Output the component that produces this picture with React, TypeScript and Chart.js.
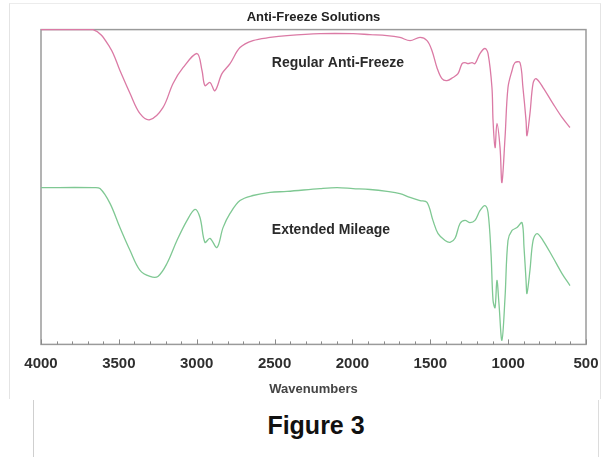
import React, { useEffect, useRef } from "react";
import { Chart, registerables } from "chart.js";

Chart.register(...registerables);

const chartTitle = "Anti-Freeze Solutions";
const xAxisTitle = "Wavenumbers";
const figureCaption = "Figure 3";
const xTickMin = 500;
const xTickMax = 4000;

// Regular Anti-Freeze (wavenumber, transmittance %)
const wnRegular = [4000, 3666, 3557, 3493, 3428, 3364, 3300, 3217, 3152, 3088, 2998, 2966, 2947, 2915, 2883, 2838, 2786, 2722, 2639, 2529, 2420, 2208, 1996, 1887, 1778, 1695, 1630, 1566, 1521, 1489, 1457, 1425, 1393, 1354, 1322, 1296, 1277, 1258, 1232, 1213, 1181, 1149, 1129, 1104, 1097, 1084, 1072, 1052, 1040, 1020, 1001, 975, 956, 924, 905, 885, 879, 860, 840, 821, 776, 712, 654, 603];
const tRegular = [100, 100, 94.3, 87.0, 79.7, 73.3, 71.4, 75.2, 82.9, 87.9, 92.4, 87.0, 82.2, 83.2, 80.6, 86.0, 89.2, 94.3, 96.5, 97.5, 98.1, 98.7, 98.7, 98.4, 98.1, 97.5, 96.5, 97.5, 96.5, 93.3, 87.9, 84.4, 83.8, 84.8, 86.0, 89.2, 89.5, 89.2, 89.5, 89.2, 92.4, 94.0, 92.4, 81.6, 71.1, 62.5, 70.2, 62.5, 51.4, 65.7, 81.6, 87.0, 89.5, 89.5, 81.6, 71.1, 66.3, 73.3, 82.9, 84.4, 81.6, 76.5, 72.1, 68.9];

// Extended Mileage (wavenumber, transmittance %)
const wnExtended = [4000, 3666, 3621, 3557, 3493, 3428, 3364, 3300, 3249, 3191, 3127, 3062, 3011, 2979, 2947, 2915, 2870, 2831, 2786, 2722, 2639, 2529, 2420, 2208, 2099, 1996, 1887, 1778, 1695, 1630, 1566, 1521, 1483, 1450, 1405, 1373, 1341, 1309, 1277, 1245, 1213, 1181, 1149, 1129, 1110, 1097, 1084, 1072, 1059, 1040, 1020, 1001, 975, 943, 911, 898, 885, 879, 860, 840, 815, 776, 712, 654, 603];
const tExtended = [49.8, 49.8, 49.5, 44.8, 37.1, 29.8, 23.5, 21.6, 21.6, 25.7, 33.0, 39.4, 42.9, 40.3, 32.4, 33.7, 30.8, 37.1, 41.6, 45.7, 47.3, 48.3, 48.6, 49.5, 49.8, 49.5, 49.2, 48.6, 47.9, 46.7, 45.7, 45.1, 39.4, 35.2, 33.0, 32.4, 33.7, 38.4, 39.4, 38.7, 39.4, 42.5, 44.1, 41.9, 28.9, 14.0, 11.7, 20.3, 13.0, 1.3, 14.9, 33.0, 36.2, 37.1, 38.7, 30.8, 20.3, 16.2, 23.5, 33.0, 35.2, 33.0, 27.6, 22.5, 18.7];

// In-plot labels
const seriesLabels = ["Regular Anti-Freeze", "Extended Mileage"];
const labelWn = [2093, 2138];
const labelT = [89.5, 36.2];

const FONT = "'Liberation Sans', Arial, Helvetica, sans-serif";

const framePlugin = {
  id: "frameTicks",
  beforeDatasetsDraw(chart: any) {
    const { ctx, chartArea, scales } = chart;
    const xs = scales.x;
    ctx.save();
    ctx.strokeStyle = "#9a9a9a";
    ctx.lineWidth = 1.5;
    ctx.strokeRect(chartArea.left, chartArea.top, chartArea.right - chartArea.left, chartArea.bottom - chartArea.top);
    ctx.strokeStyle = "#8a8a8a";
    ctx.lineWidth = 1;
    for (let v = xTickMin; v <= xTickMax; v += 100) {
      const px = Math.round(xs.getPixelForValue(v)) + 0.5;
      const len = v % 500 === 0 ? 5 : 3;
      ctx.beginPath();
      ctx.moveTo(px, chartArea.bottom);
      ctx.lineTo(px, chartArea.bottom - len);
      ctx.stroke();
    }
    ctx.restore();
  },
  afterDatasetsDraw(chart: any) {
    const { ctx, scales } = chart;
    ctx.save();
    ctx.fillStyle = "#2a2a2a";
    ctx.font = `bold 14px ${FONT}`;
    ctx.textAlign = "center";
    ctx.textBaseline = "middle";
    for (let i = 0; i < seriesLabels.length; i++) {
      ctx.fillText(seriesLabels[i], scales.x.getPixelForValue(labelWn[i]), scales.y.getPixelForValue(labelT[i]));
    }
    ctx.restore();
  },
};

function IRChart() {
  const ref = useRef<HTMLCanvasElement | null>(null);
  useEffect(() => {
    if (!ref.current) return;
    const chart = new Chart(ref.current, {
      type: "line",
      data: {
        datasets: [
          {
            label: seriesLabels[0],
            data: wnRegular.map((w, i) => ({ x: w, y: tRegular[i] })),
            borderColor: "#db7aa5",
            borderWidth: 1.3,
            pointRadius: 0,
            tension: 0.35,
            fill: false,
            clip: false,
          },
          {
            label: seriesLabels[1],
            data: wnExtended.map((w, i) => ({ x: w, y: tExtended[i] })),
            borderColor: "#7fc893",
            borderWidth: 1.3,
            pointRadius: 0,
            tension: 0.35,
            fill: false,
            clip: false,
          },
        ],
      },
      options: {
        animation: false,
        responsive: false,
        maintainAspectRatio: false,
        layout: { padding: { left: 41, right: 22, top: 0, bottom: 0 } },
        plugins: {
          legend: { display: false },
          tooltip: { enabled: false },
          title: {
            display: true,
            text: chartTitle,
            color: "#222",
            font: { family: FONT, size: 13, weight: "bold" },
            padding: { top: 10, bottom: 4 },
          },
        },
        scales: {
          x: {
            type: "linear",
            reverse: true,
            min: xTickMin,
            max: xTickMax,
            grid: { display: false },
            border: { display: false },
            ticks: {
              stepSize: 500,
              autoSkip: false,
              maxRotation: 0,
              padding: 2,
              color: "#2e2e2e",
              font: { family: FONT, size: 15, weight: "bold" },
              callback: (v: any) => String(v),
            },
            title: {
              display: true,
              text: xAxisTitle,
              color: "#444",
              font: { family: FONT, size: 13, weight: "bold" },
              padding: { top: 7, bottom: 3 },
            },
          },
          y: {
            display: false,
            min: 0,
            max: 100,
          },
        },
      },
      plugins: [framePlugin],
    });
    return () => chart.destroy();
  }, []);
  return <canvas ref={ref} width={608} height={400} style={{ position: "absolute", left: 0, top: 0, width: 608, height: 400 }} />;
}

export default function App() {
  return (
    <div style={{ position: "fixed", left: 0, top: 0, width: 608, height: 457, background: "#fff", overflow: "hidden" }}>
      <div style={{ position: "absolute", left: 9, top: 3, width: 590, height: 395, borderLeft: "1px solid #e4e4e4", borderTop: "1px solid #ececec", borderRight: "1px solid #e4e4e4" }} />
      <IRChart />
      <div style={{ position: "absolute", left: 33, top: 400, width: 564, height: 57, borderLeft: "1px solid #cfcfcf", borderRight: "1px solid #dcdcdc" }}>
        <div style={{ position: "absolute", left: 0, right: 0, top: 9, height: 32, lineHeight: "32px", textAlign: "center", fontFamily: FONT, fontWeight: "bold", fontSize: 25, color: "#111" }}>
          {figureCaption}
        </div>
      </div>
    </div>
  );
}
